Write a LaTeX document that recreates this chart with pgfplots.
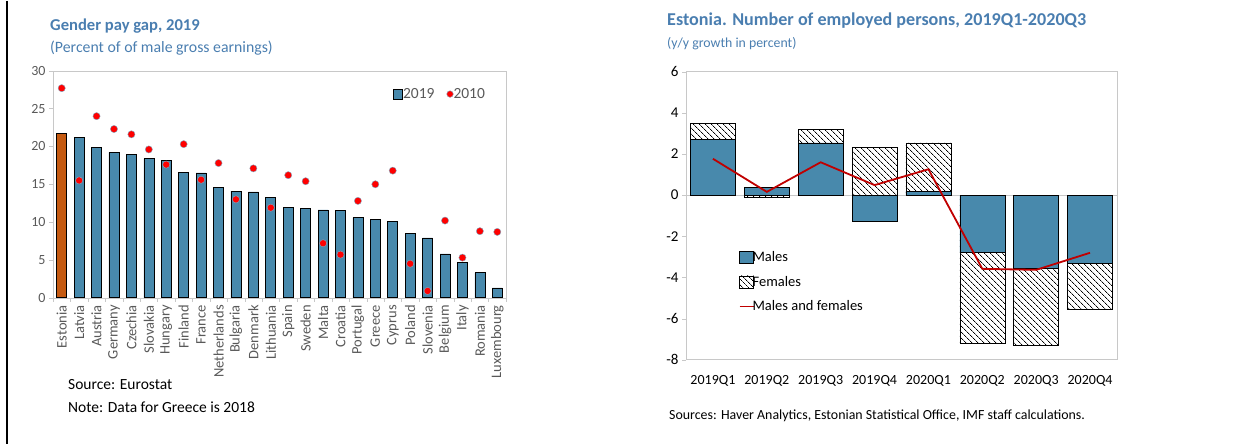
\documentclass[border=0pt]{standalone}
\usepackage{pgfplots}
\pgfplotsset{compat=1.18}
\usetikzlibrary{patterns.meta}
\usepackage{fontspec}
\setmainfont{Carlito}
\definecolor{ttl}{RGB}{74,126,176}
\definecolor{barblue}{RGB}{72,137,172}
\definecolor{barorange}{RGB}{197,90,17}
\definecolor{dkred}{RGB}{192,0,0}
\definecolor{txtgray}{RGB}{89,89,89}
\definecolor{frame}{RGB}{200,200,200}
\tikzset{hatch/.style={pattern={Lines[angle=-45, distance=4pt, line width=0.8pt]}}}

\pgfplotstableread{
x v19 v10
0 21.7 27.7
1 21.2 15.5
2 19.9 24.0
3 19.2 22.3
4 18.9 21.6
5 18.4 19.6
6 18.2 17.6
7 16.6 20.3
8 16.5 15.6
9 14.6 17.8
10 14.1 13.0
11 14.0 17.1
12 13.3 11.9
13 11.9 16.2
14 11.8 15.4
15 11.6 7.2
16 11.5 5.7
17 10.6 12.8
18 10.4 15.0
19 10.1 16.8
20 8.5 4.5
21 7.9 0.9
22 5.8 10.2
23 4.7 5.3
24 3.3 8.8
25 1.3 8.7
}\gap

% employment growth: males, end of the stacked bar, total line
\pgfplotstableread{
x males stack total
0 2.70 3.48 1.77
1 0.39 -0.11 0.16
2 2.54 3.20 1.60
3 -1.27 2.32 0.49
4 0.18 2.54 1.26
5 -2.78 -7.20 -3.58
6 -3.57 -7.28 -3.63
7 -3.30 -5.55 -2.80
}\emp

\begin{document}
\begin{tikzpicture}[x=1pt,y=1pt]
\path (0,0) rectangle (1244,-443);
\draw[line width=1.5pt] (7,0) -- (7,-443);

% ---------- left panel ----------
\node[anchor=west, font=\fontsize{16.6}{19}\selectfont\bfseries, text=ttl, inner sep=0] at (50,-25) {Gender pay gap, 2019};
\node[anchor=west, font=\fontsize{15.8}{18}\selectfont, text=ttl, inner sep=0] at (50,-47) {(Percent of of male gross earnings)};
\node[anchor=west, font=\fontsize{15.5}{18}\selectfont, inner sep=0] at (68,-384) {Source: Eurostat};
\node[anchor=west, font=\fontsize{15.5}{18}\selectfont, inner sep=0] at (68,-406) {Note: Data for Greece is 2018};

\begin{axis}[
    at={(53pt,-297pt)}, anchor=south west,
    scale only axis, width=453pt, height=227pt,
    xmin=-0.5, xmax=25.5, ymin=0, ymax=30,
    ytick={0,5,...,30},
    xtick={0,...,25},
    xticklabels={Estonia,Latvia,Austria,Germany,Czechia,Slovakia,Hungary,Finland,France,Netherlands,Bulgaria,Denmark,Lithuania,Spain,Sweden,Malta,Croatia,Portugal,Greece,Cyprus,Poland,Slovenia,Belgium,Italy,Romania,Luxembourg},
    minor xtick={-0.5,0.5,...,25.5},
    major x tick style={draw=none},
    minor x tick style={draw=frame},
    minor tick length=4pt,
    xtick pos=bottom, ytick pos=left,
    tick align=outside,
    y tick style={draw=frame},
    major tick length=4pt,
    axis line style={draw=frame},
    xticklabel style={rotate=90, anchor=east, font=\fontsize{14.5}{16}\selectfont, text=txtgray},
    yticklabel style={font=\fontsize{14}{16}\selectfont, text=txtgray},
    /pgf/number format/assume math mode=true,
    legend style={at={(0.965,0.94)}, anchor=north east, draw=none, fill=none,
        font=\fontsize{15.5}{17}\selectfont, text=txtgray, legend columns=2,
        /tikz/every even column/.append style={column sep=10pt},
        /tikz/every odd column/.append style={column sep=-2pt}},
  ]
  \addplot[ybar, bar width=10pt, bar shift=0pt, fill=barblue, draw=black, line width=0.6pt,
      legend image code/.code={\draw[fill=barblue, draw=black, line width=0.6pt] (0pt,-4.5pt) rectangle (9.5pt,5pt);}]
    table[x=x, y=v19] {\gap};
  \addlegendentry{2019}
  \addplot[ybar, bar width=10pt, bar shift=0pt, fill=barorange, draw=black, line width=0.6pt, forget plot]
    coordinates {(0,21.7)};
  \addplot[only marks, mark=*, mark size=3.6pt, mark options={fill=red, draw=barblue!70, line width=0.4pt},
      legend image code/.code={\draw[fill=red, draw=barblue!70, line width=0.4pt] (5pt,0.3pt) circle (3.3pt);}]
    table[x=x, y=v10] {\gap};
  \addlegendentry{2010}
\end{axis}

% ---------- right panel ----------
\node[anchor=west, font=\fontsize{18.1}{21}\selectfont\bfseries, text=ttl, inner sep=0] at (667,-20) {Estonia. Number of employed persons, 2019Q1-2020Q3};
\node[anchor=west, font=\fontsize{13.8}{16}\selectfont, text=ttl, inner sep=0] at (667,-43) {(y/y growth in percent)};
\node[anchor=west, font=\fontsize{13.9}{16}\selectfont, inner sep=0] at (669,-415) {Sources: Haver Analytics, Estonian Statistical Office, IMF staff calculations.};

\begin{axis}[
    at={(686pt,-359pt)}, anchor=south west,
    scale only axis, width=431pt, height=288pt,
    xmin=-0.5, xmax=7.5, ymin=-8, ymax=6,
    ytick={-8,-6,...,6},
    xtick={0,...,7},
    xticklabels={2019Q1,2019Q2,2019Q3,2019Q4,2020Q1,2020Q2,2020Q3,2020Q4},
    xtick pos=bottom, ytick pos=left,
    major x tick style={draw=none},
    y tick style={draw=frame}, tick align=outside, major tick length=4pt,
    axis line style={draw=frame, line width=0.8pt},
    xticklabel style={font=\fontsize{14}{16}\selectfont, yshift=-8pt},
    yticklabel style={font=\fontsize{15}{17}\selectfont},
    /pgf/number format/assume math mode=true,
    extra y ticks={0}, extra y tick labels={},
    extra y tick style={grid=major, major grid style={draw=frame, line width=0.8pt}},
    legend style={at={(0.115,0.39)}, anchor=north west, draw=none, fill=none,
        font=\fontsize{14.5}{17}\selectfont, row sep=9pt,
        /tikz/every odd column/.append style={column sep=-4pt}},
    legend cell align=left,
  ]
  \addplot[ybar, bar width=45pt, bar shift=0pt, hatch, draw=black, line width=0.6pt, forget plot]
    table[x=x, y=stack] {\emp};
  \addplot[ybar, bar width=45pt, bar shift=0pt, fill=barblue, draw=black, line width=0.6pt, forget plot]
    table[x=x, y=males] {\emp};
  \addplot[sharp plot, color=dkred, line width=1.8pt, mark=none, forget plot]
    table[x=x, y=total] {\emp};
  \addlegendimage{legend image code/.code={\draw[fill=barblue, draw=black, line width=0.6pt] (0pt,-6pt) rectangle (14pt,6pt);}}
  \addlegendentry{Males}
  \addlegendimage{legend image code/.code={\draw[hatch, draw=black, line width=0.6pt] (0pt,-6pt) rectangle (14pt,6pt);}}
  \addlegendentry{Females}
  \addlegendimage{legend image code/.code={\draw[dkred, line width=1.8pt] (0pt,0pt) -- (14pt,0pt);}}
  \addlegendentry{Males and females}
\end{axis}
\end{tikzpicture}
\end{document}
